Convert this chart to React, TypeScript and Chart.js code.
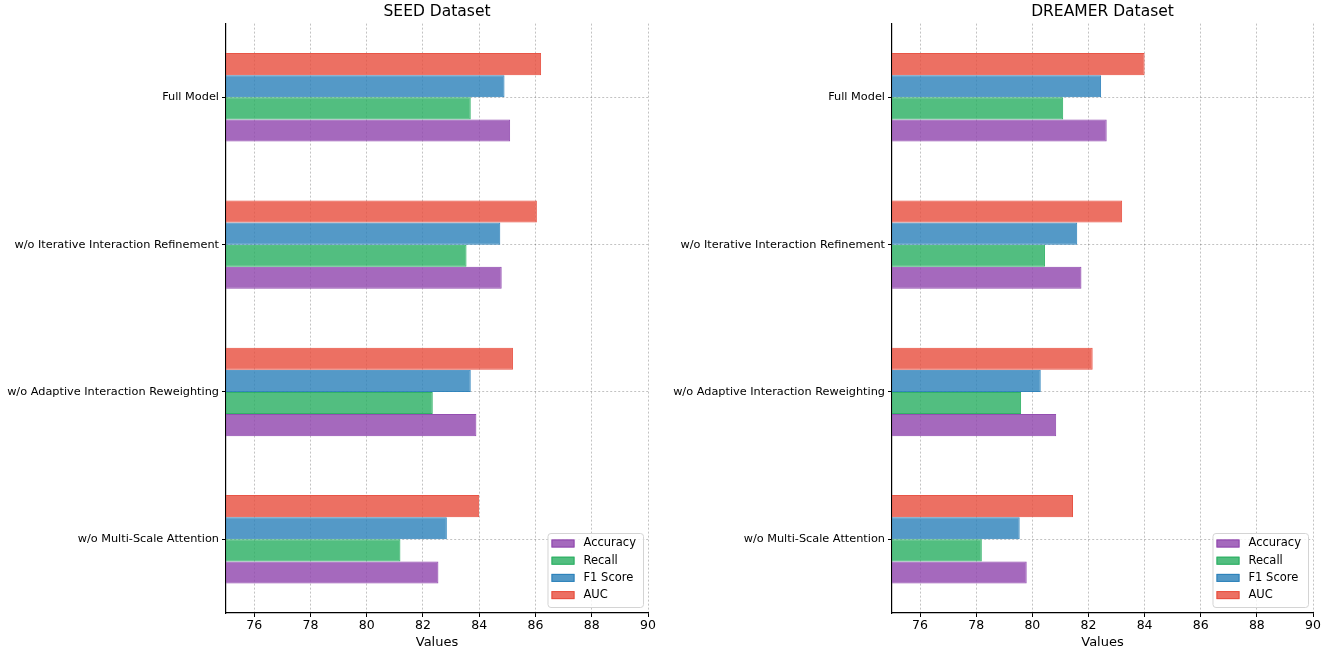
import React, { useEffect, useRef } from "react";
import { Chart, registerables } from "chart.js";

Chart.register(...registerables);
Chart.defaults.font.family = "'DejaVu Sans', sans-serif";

// categories, top to bottom
const categories = [
  "Full Model",
  "w/o Iterative Interaction Refinement",
  "w/o Adaptive Interaction Reweighting",
  "w/o Multi-Scale Attention",
];
const xTicks = [76, 78, 80, 82, 84, 86, 88, 90];

// SEED
const seedAuc = [86.2, 86.05, 85.2, 84.0];
const seedF1 = [84.9, 84.75, 83.7, 82.85];
const seedRecall = [83.7, 83.55, 82.35, 81.2];
const seedAccuracy = [85.1, 84.8, 83.9, 82.55];

// DREAMER
const dreamerAuc = [84.0, 83.2, 82.15, 81.45];
const dreamerF1 = [82.45, 81.6, 80.3, 79.55];
const dreamerRecall = [81.1, 80.45, 79.6, 78.2];
const dreamerAccuracy = [82.65, 81.75, 80.85, 79.8];

// dataset order = top to bottom inside a group
const metricNames = ["AUC", "F1 Score", "Recall", "Accuracy"];
const metricColors = ["231, 76, 60", "41, 128, 185", "39, 174, 96", "142, 68, 173"];

// legend box in the lower right of the plot, reversed order like matplotlib
const legendBox = {
  id: "legendBox",
  afterDatasetsDraw(chart: any) {
    const { ctx, chartArea } = chart;
    const items = chart.data.datasets.slice().reverse();
    ctx.save();
    ctx.font = "11.5px 'DejaVu Sans'";
    const textW = Math.max(...items.map((d: any) => ctx.measureText(d.label).width));
    const w = 37 + textW + 6;
    const h = 74;
    const x = chartArea.right - 5 - w;
    const y = chartArea.bottom - 6 - h;
    ctx.beginPath();
    ctx.roundRect(x + 0.5, y + 0.5, w, h, 3);
    ctx.fillStyle = "rgba(255,255,255,0.8)";
    ctx.fill();
    ctx.strokeStyle = "#d4d4d4";
    ctx.lineWidth = 1;
    ctx.stroke();
    items.forEach((d: any, i: number) => {
      const cy = y + 10.5 + i * 17.2;
      ctx.fillStyle = d.backgroundColor;
      ctx.fillRect(x + 4, cy - 4, 23, 8);
      ctx.strokeStyle = d.borderColor;
      ctx.strokeRect(x + 4.5, cy - 3.5, 22, 7);
      ctx.fillStyle = "#000";
      ctx.textBaseline = "middle";
      ctx.textAlign = "left";
      ctx.fillText(d.label, x + 36, cy);
    });
    ctx.restore();
  },
};

type PanelProps = {
  title: string;
  series: number[][];
  left: number;
  width: number;
  yWidth: number;
  rightPad: number;
};

function Panel({ title, series, left, width, yWidth, rightPad }: PanelProps) {
  const canvasRef = useRef<HTMLCanvasElement>(null);

  useEffect(() => {
    if (!canvasRef.current) return;
    const grid = {
      color: "rgba(0,0,0,0.24)",
      lineWidth: 1,
      drawTicks: true,
      tickLength: 4,
      tickColor: "#000",
      tickWidth: 1,
      tickBorderDash: [],
    };
    const border = { display: true, color: "#000", width: 1.2, dash: [2, 2] };

    const chart = new Chart(canvasRef.current, {
      type: "bar",
      data: {
        labels: categories,
        datasets: metricNames.map((name, i) => ({
          label: name,
          data: series[i],
          backgroundColor: `rgba(${metricColors[i]}, 0.8)`,
          borderColor: `rgba(${metricColors[i]}, 0.95)`,
          borderWidth: 1,
          categoryPercentage: 0.6,
          barPercentage: 1,
        })),
      },
      options: {
        indexAxis: "y",
        animation: false,
        responsive: false,
        maintainAspectRatio: false,
        layout: { padding: { left: 0, right: rightPad, top: 0, bottom: 0 } },
        plugins: {
          legend: { display: false },
          tooltip: { enabled: false },
          title: {
            display: true,
            fullSize: false,
            text: title,
            color: "#000",
            font: { size: 15.5, weight: "normal" },
            padding: { top: 3, bottom: 2 },
          },
        },
        scales: {
          x: {
            type: "linear",
            min: 75,
            max: 90,
            afterBuildTicks: (s: any) => {
              s.ticks = xTicks.map((v) => ({ value: v }));
            },
            afterFit: (s: any) => {
              s.height = 38;
            },
            ticks: { color: "#000", font: { size: 12.5 }, padding: 1 },
            grid,
            border,
            title: {
              display: true,
              text: "Values",
              color: "#000",
              font: { size: 13 },
              padding: { top: 0, bottom: 1 },
            },
          },
          y: {
            type: "category",
            afterFit: (s: any) => {
              s.width = yWidth;
            },
            ticks: { color: "#000", font: { size: 11.3 }, padding: 3, autoSkip: false },
            grid: { ...grid, offset: false },
            border,
          },
        },
      } as any,
      plugins: [legendBox],
    });

    return () => chart.destroy();
  }, [title, series, yWidth, rightPad]);

  return (
    <canvas
      ref={canvasRef}
      width={width}
      height={651}
      style={{ position: "absolute", left, top: 0, width, height: 651, display: "block" }}
    />
  );
}

export default function App() {
  useEffect(() => {
    document.body.style.margin = "0";
  }, []);

  return (
    <div style={{ position: "absolute", left: 0, top: 0, width: 1325, height: 651, background: "#fff" }}>
      <Panel
        title="SEED Dataset"
        series={[seedAuc, seedF1, seedRecall, seedAccuracy]}
        left={0}
        width={662}
        yWidth={226}
        rightPad={14}
      />
      <Panel
        title="DREAMER Dataset"
        series={[dreamerAuc, dreamerF1, dreamerRecall, dreamerAccuracy]}
        left={662}
        width={663}
        yWidth={230}
        rightPad={12}
      />
    </div>
  );
}
